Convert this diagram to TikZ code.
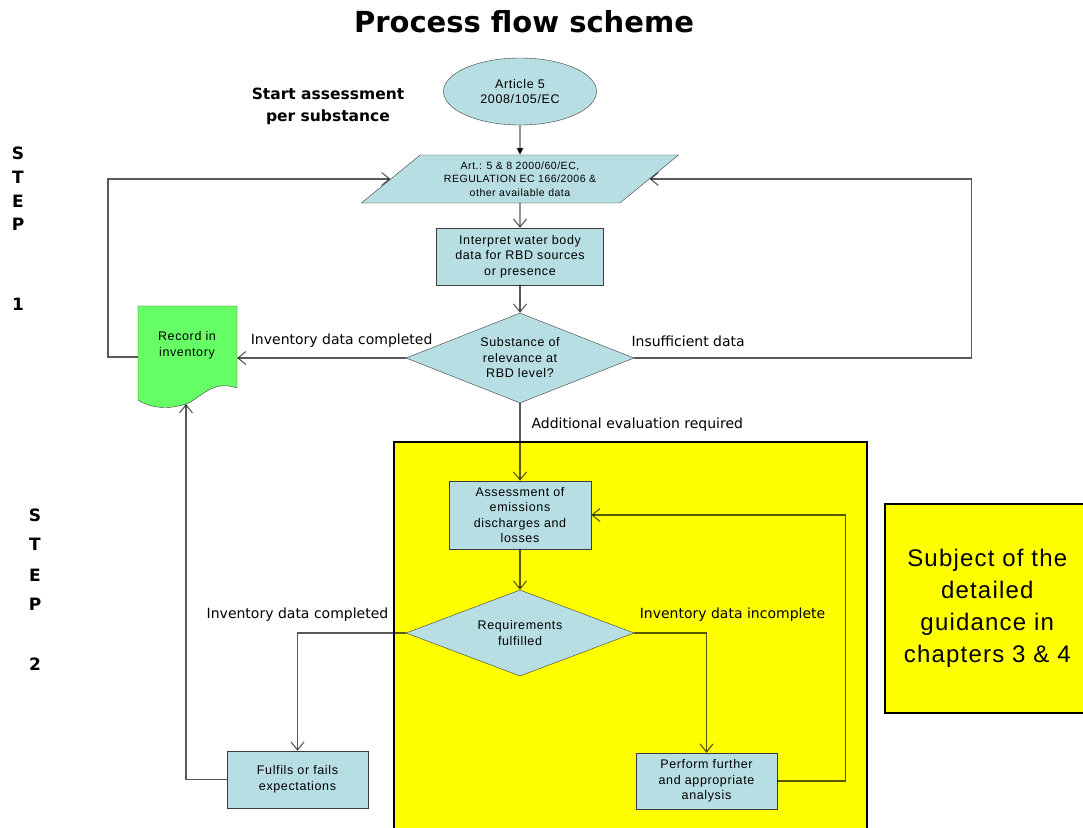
\documentclass[tikz,border=0pt]{standalone}
\usepackage{fontspec}
\setmainfont{Liberation Sans}
\newfontfamily\boxfont[LetterSpace=5]{Liberation Sans}
\newfontfamily\labfont{DejaVu Sans}
\usetikzlibrary{shapes.geometric,arrows.meta}

\definecolor{boxblue}{RGB}{183,222,227}
\definecolor{docgreen}{RGB}{102,255,102}
\definecolor{edgegray}{RGB}{60,60,60}
\definecolor{zoneyellow}{RGB}{255,255,0}

\begin{document}
\begin{tikzpicture}[x=1pt, y=-1pt,
  box/.style={draw=edgegray, fill=boxblue, align=center, inner sep=2pt,
    font=\boxfont\fontsize{12.5}{15.5}\selectfont},
  conn/.style={draw=black, draw opacity=0.65, line width=1.1pt},
  arr/.style={conn, -{Straight Barb[length=8pt,width=13pt]}},
  lab/.style={font=\labfont\fontsize{14}{17}\selectfont, inner sep=0pt},
  head/.style={font=\labfont\bfseries\fontsize{15.5}{22}\selectfont, align=center},
  steplab/.style={font=\labfont\bfseries\fontsize{17}{20}\selectfont, inner sep=0pt},
  zone/.style={draw=black, line width=2pt, fill=zoneyellow, anchor=north west}]

  \useasboundingbox (0,0) rectangle (1083,827);
  \fill[white] (0,0) rectangle (1083,827);

  % naglowki
  \node[font=\labfont\bfseries\fontsize{29}{34}\selectfont] (title) at (524,22) {Process flow scheme};
  \node[head] (start) at (328,106) {Start assessment\\per substance};
  \foreach \c/\y in {S/153,T/177,E/201,P/224,1/304}
    \node[steplab] (one-\c) at (18,\y) {\c};
  \foreach \c/\y in {S/515,T/544,E/575,P/604,2/664}
    \node[steplab] (two-\c) at (35,\y) {\c};

  % zolte pola
  \node[zone, minimum width=473pt, minimum height=400pt] (zone) at (393,441) {};
  \node[zone, line width=1.5pt, minimum width=205pt, minimum height=209pt,
    font=\boxfont\fontsize{24}{32}\selectfont, align=center] (subj) at (884,503)
    {Subject of the\\detailed\\guidance in\\chapters 3 \& 4};

  % krok 1
  \node[box, ellipse, minimum width=153pt, minimum height=67pt, inner sep=0pt] (art) at (520,91.5) {Article 5\\2008/105/EC};
  \node[box, trapezium, trapezium left angle=39, trapezium right angle=141, trapezium stretches=true,
    minimum width=318pt, minimum height=48pt, inner sep=1pt,
    font=\boxfont\fontsize{10.5}{13.5}\selectfont] (src) at (520,179)
    {Art.: 5 \& 8 2000/60/EC,\\REGULATION EC 166/2006 \&\\other available data};
  \node[box, minimum width=167pt, minimum height=57pt] (wat) at (520,256.5) {Interpret water body\\data for RBD sources\\or presence};
  \node[box, diamond, aspect=2.5, minimum width=228pt, minimum height=90pt, inner sep=0pt] (rel) at (520,358) {Substance of\\relevance at\\RBD level?};

  % dokument
  \filldraw[draw=edgegray, fill=docgreen] (138,306) -- (237,306) -- (237,388)
    .. controls (212,379) and (200,399) .. (186,404)
    .. controls (168,410) and (150,408) .. (138,400) -- cycle;
  \node[font=\boxfont\fontsize{12.5}{15.5}\selectfont, align=center] (rec) at (187,345.5) {Record in\\inventory};
  \coordinate (recE) at (237,358);
  \coordinate (recW) at (138,357);
  \coordinate (recS) at (186,404);

  % krok 2
  \node[box, minimum width=142pt, minimum height=68pt] (ass) at (520,515) {Assessment of\\emissions\\discharges and\\losses};
  \node[box, diamond, aspect=2.6, minimum width=228pt, minimum height=86pt, inner sep=0pt] (req) at (520,633) {Requirements\\fulfilled};
  \node[box, minimum width=141pt, minimum height=57pt] (ful) at (297.5,779.5) {Fulfils or fails\\expectations};
  \node[box, minimum width=141pt, minimum height=56pt] (per) at (706.5,781) {Perform further\\and appropriate\\analysis};

  % polaczenia
  \draw[conn, -{Triangle[length=7pt,width=7pt]}] (art) -- (src);
  \draw[arr] (src) -- (wat);
  \draw[arr] (wat) -- (rel);
  \draw[arr] (rel.west) -- node[lab, above=10.5pt, pos=0.38] {Inventory data completed} (recE);
  \draw[arr] (rel.east) -- node[lab, above=10.5pt, pos=0.16] {Insufficient data} ++(337,0) |- (src.right side);
  \draw[arr] (recW) -- ++(-30,0) |- (src.left side);
  \draw[arr] (rel.south) -- node[lab, right=11pt, pos=0.28] {Additional evaluation required} (ass.north);
  \draw[arr] (ass) -- (req);
  \draw[arr] (req.west) -| node[lab, above=11pt, pos=0.5] {Inventory data completed} (ful.north);
  \draw[arr] (req.east) -| node[lab, above=11pt, xshift=26pt, pos=0.5] {Inventory data incomplete} (per.north);
  \draw[arr] (ful.west) -| (recS);
  \draw[arr] (per.east) -- ++(68,0) |- (ass.east);

\end{tikzpicture}
\end{document}
